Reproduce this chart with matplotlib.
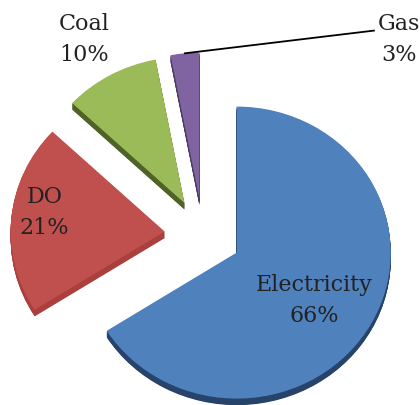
import matplotlib.pyplot as plt
import numpy as np

labels = ["Electricity", "DO", "Coal", "Gas"]
shares = [66, 21, 10, 3]

top_colors = ["#4F81BD", "#C0504D", "#9BBB59", "#8064A2"]
side_colors = ["#27436A", "#AA3F3B", "#4F6228", "#4B3A63"]

fig = plt.figure(figsize=(4.2, 4.06), dpi=100)
ax = fig.add_axes([0, 0, 1, 1])

explode = [0.25] * len(shares)
depth = 0.045

# extruded side of the pie: stacked copies shifted down, darker
for d in np.linspace(depth, 0.005, 12):
    ax.pie(shares, explode=explode, colors=side_colors, startangle=90,
           counterclock=False, center=(0, -d), radius=1.0,
           wedgeprops=dict(linewidth=0))

# top face
wedges, _ = ax.pie(shares, explode=explode, colors=top_colors, startangle=90,
                   counterclock=False, radius=1.0,
                   wedgeprops=dict(linewidth=0))

font = dict(family="DejaVu Serif", fontsize=16, color="#222222",
            ha="center", va="center", linespacing=1.55)

label_pos = {"Electricity": (0.725, -0.44), "DO": (-1.03, 0.16),
             "Coal": (-0.77, 1.345), "Gas": (1.27, 1.345)}
for name, val in zip(labels, shares):
    x, y = label_pos[name]
    ax.text(x, y, f"{name}\n{val}%", **font)

# leader line from the gas slice to its label
w = wedges[3]
mid = np.deg2rad((w.theta1 + w.theta2) / 2)
cx, cy = w.center
start = (cx + np.cos(mid), cy + np.sin(mid))
ax.plot([start[0], 1.11], [start[1], 1.40], color="black", lw=1.3)

# pixel scale: 154 px per unit horizontally, 146 px vertically
ax.set_aspect("auto")
ax.set_xlim(-203 / 154, (420 - 203) / 154)
ax.set_ylim(-(406 - 236) / 146, 236 / 146)
ax.axis("off")

fig.savefig("out.png", dpi=100)
